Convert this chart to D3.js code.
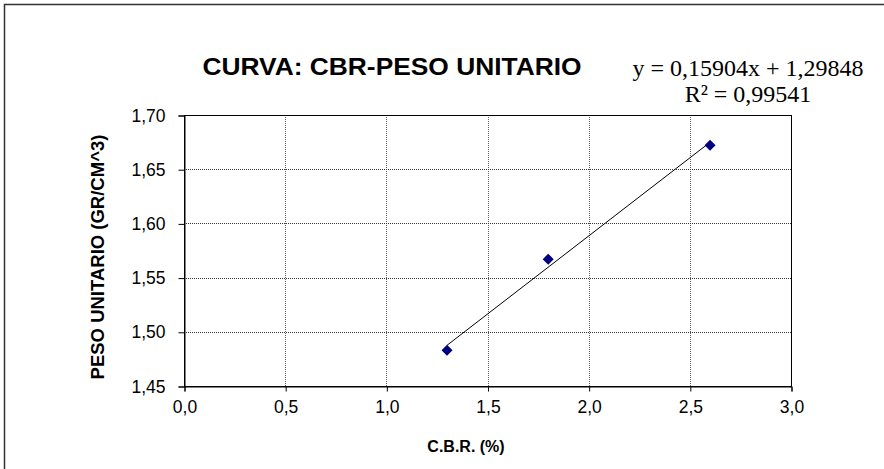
<!DOCTYPE html>
<html><head><meta charset="utf-8">
<script src="https://cdn.jsdelivr.net/npm/d3@7"></script>
<style>body{margin:0;background:#fff}svg{display:block}</style>
</head><body>
<svg id="c" width="884" height="469"></svg>
<script>
const cbr = [1.30, 1.80, 2.60];
const pesoUnitario = [1.483, 1.567, 1.672];
const xTicks = [0, 0.5, 1.0, 1.5, 2.0, 2.5, 3.0];
const yTicks = [1.45, 1.50, 1.55, 1.60, 1.65, 1.70];
const titleText = "CURVA: CBR-PESO UNITARIO";
const eqText = ["y = 0,15904x + 1,29848", "R² = 0,99541"];
const xTitle = "C.B.R. (%)";
const yTitle = "PESO UNITARIO (GR/CM^3)";

const svg = d3.select("#c");
const L = 184, R = 791, T = 115, B = 386;
const x = d3.scaleLinear().domain([0, 3]).range([L, R]);
const y = d3.scaleLinear().domain([1.45, 1.70]).range([B, T]);
const fmt = (d, n) => d.toFixed(n).replace(".", ",");
const SANS = "Arial, 'Liberation Sans', sans-serif";

// outer frame
svg.append("rect").attr("x", 4.5).attr("y", 4.5).attr("width", 900).attr("height", 500)
  .attr("fill", "none").attr("stroke", "#333").attr("stroke-width", 1.5);

// gridlines
svg.append("g").selectAll("line").data(xTicks.slice(1, -1)).join("line")
  .attr("x1", d => Math.round(x(d)) + 0.5).attr("x2", d => Math.round(x(d)) + 0.5)
  .attr("y1", T).attr("y2", B)
  .attr("stroke", "#666").attr("stroke-dasharray", "1,1");
svg.append("g").selectAll("line").data(yTicks.slice(1, -1)).join("line")
  .attr("y1", d => Math.round(y(d)) + 0.5).attr("y2", d => Math.round(y(d)) + 0.5)
  .attr("x1", L).attr("x2", R)
  .attr("stroke", "#333").attr("stroke-dasharray", "1,1");

// plot border
svg.append("rect").attr("x", L + 0.5).attr("y", T + 0.5).attr("width", R - L).attr("height", B - T)
  .attr("fill", "none").attr("stroke", "#000").attr("stroke-width", 1);

// axes
const xAxis = svg.append("g").attr("transform", `translate(0.5,${B + 0.5})`)
  .call(d3.axisBottom(x).tickValues(xTicks).tickSize(5).tickPadding(8).tickFormat(d => fmt(d, 1)));
const yAxis = svg.append("g").attr("transform", `translate(${L + 0.5},0.5)`)
  .call(d3.axisLeft(y).tickValues(yTicks).tickSize(6).tickPadding(13).tickFormat(d => fmt(d, 2)));
[xAxis, yAxis].forEach(a => {
  a.select(".domain").attr("stroke", "#000");
  a.selectAll(".tick line").attr("stroke", "#000");
  a.selectAll("text").attr("font-family", SANS)
    .attr("font-size", 17.5).attr("fill", "#000");
});
xAxis.selectAll("text").attr("dy", "0.78em");

// trend line (least squares)
const n = cbr.length;
const mx = d3.mean(cbr), my = d3.mean(pesoUnitario);
let sxy = 0, sxx = 0;
for (let i = 0; i < n; i++) { sxy += (cbr[i] - mx) * (pesoUnitario[i] - my); sxx += (cbr[i] - mx) ** 2; }
const slope = sxy / sxx, icpt = my - slope * mx;
const x0 = d3.min(cbr), x1 = d3.max(cbr);
svg.append("line").attr("x1", x(x0)).attr("y1", y(slope * x0 + icpt))
  .attr("x2", x(x1)).attr("y2", y(slope * x1 + icpt)).attr("stroke", "#000").attr("stroke-width", 1);

// points
svg.append("g").selectAll("path").data(cbr).join("path")
  .attr("transform", (d, i) => `translate(${x(d)},${y(pesoUnitario[i])})`)
  .attr("d", "M0,-5.5L5.5,0L0,5.5L-5.5,0Z").attr("fill", "#000080");

// title
svg.append("text").attr("x", 392).attr("y", 75).attr("text-anchor", "middle")
  .attr("font-family", SANS).attr("font-weight", "bold")
  .attr("font-size", 24).attr("textLength", 379).attr("lengthAdjust", "spacingAndGlyphs")
  .text(titleText);

// equation
svg.append("g").selectAll("text").data(eqText).join("text")
  .attr("x", 748).attr("y", (d, i) => 76 + i * 26).attr("text-anchor", "middle")
  .attr("font-family", "'Times New Roman', 'Liberation Serif', serif")
  .attr("font-size", 24).text(d => d);

// axis titles
svg.append("text").attr("x", 466).attr("y", 452).attr("text-anchor", "middle")
  .attr("font-family", SANS).attr("font-weight", "bold")
  .attr("font-size", 16).text(xTitle);
svg.append("text").attr("transform", "translate(104,257) rotate(-90)").attr("text-anchor", "middle")
  .attr("font-family", SANS).attr("font-weight", "bold")
  .attr("font-size", 18.5).text(yTitle);
</script>
</body></html>
